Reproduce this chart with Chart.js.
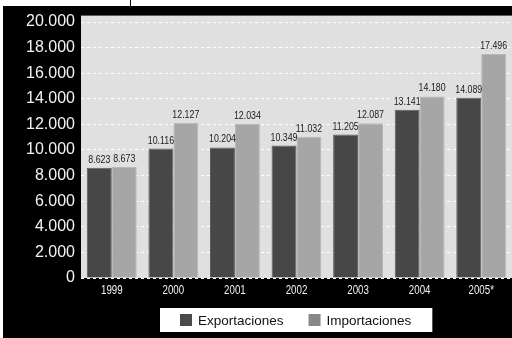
<!DOCTYPE html>
<html>
<head>
<meta charset="utf-8">
<script src="https://cdn.jsdelivr.net/npm/chart.js@4"></script>
<style>
  html, body { margin: 0; padding: 0; background: #fff; }
  canvas { display: block; }
</style>
</head>
<body>
<canvas id="chart" width="512" height="338"></canvas>
<script>
const years = ["1999", "2000", "2001", "2002", "2003", "2004", "2005*"];
const exportaciones = [8623, 10116, 10204, 10349, 11205, 13141, 14089];
const importaciones = [8673, 12127, 12034, 11032, 12087, 14180, 17496];
const yTicks = [0, 2000, 4000, 6000, 8000, 10000, 12000, 14000, 16000, 18000, 20000];

// 12345 -> "12.345"
const fmt = v => v >= 1000 ? Math.floor(v / 1000) + "." + String(v % 1000).padStart(3, "0") : String(v);

// condensed text: squeeze a regular face horizontally
function narrowText(ctx, text, x, y, sx) {
  ctx.save();
  ctx.translate(x, y);
  ctx.scale(sx, 1);
  ctx.fillText(text, 0, 0);
  ctx.restore();
}

// black frame, grey plot area and the small tick line at the top
const backdrop = {
  id: "backdrop",
  beforeDraw(chart) {
    const { ctx, chartArea: a, width, height } = chart;
    ctx.save();
    ctx.fillStyle = "#fff";
    ctx.fillRect(0, 0, width, height);
    ctx.fillStyle = "#000";
    ctx.fillRect(3, 6, width - 3, height - 6);
    ctx.fillRect(130, 0, 1, 6);
    ctx.fillStyle = "#e0e0e0";
    ctx.fillRect(a.left, a.top, a.right - a.left, a.bottom - a.top);
    ctx.restore();
  }
};

// value printed above each bar, and the year under each group
const valueLabels = {
  id: "valueLabels",
  afterDatasetsDraw(chart) {
    const ctx = chart.ctx;
    ctx.save();
    ctx.font = "10.5px 'Liberation Sans', Arial, sans-serif";
    ctx.fillStyle = "#1a1a1a";
    ctx.textAlign = "center";
    ctx.textBaseline = "alphabetic";
    chart.data.datasets.forEach((ds, i) => {
      chart.getDatasetMeta(i).data.forEach((bar, j) => {
        narrowText(ctx, fmt(ds.data[j]), bar.x, bar.y - 5, 0.84);
      });
    });
    const xs = chart.scales.x;
    ctx.font = "13.5px 'Liberation Sans', Arial, sans-serif";
    ctx.fillStyle = "#f2f2f2";
    chart.data.labels.forEach((lab, i) => {
      narrowText(ctx, lab, xs.getPixelForTick(i), 294, 0.72);
    });
    ctx.restore();
  }
};

// white legend box under the axis
const boxLegend = {
  id: "boxLegend",
  afterDraw(chart) {
    const { ctx, chartArea: a } = chart;
    ctx.save();
    ctx.font = "13.5px 'Liberation Sans', Arial, sans-serif";
    const sw = 12, gapText = 6, gapItem = 25, padL = 20, padR = 21;
    const items = chart.data.datasets.map(ds => ({ text: ds.label, color: ds.swatch, w: ctx.measureText(ds.label).width }));
    let total = padL + padR;
    items.forEach((it, i) => { total += sw + gapText + it.w + (i ? gapItem : 0); });
    const cx = (a.left + a.right) / 2;
    const left = Math.round(cx - total / 2), top = 308, h = 24;
    ctx.fillStyle = "#fff";
    ctx.fillRect(left, top, total, h);
    let x = left + padL;
    ctx.textBaseline = "middle";
    items.forEach(it => {
      ctx.fillStyle = it.color;
      ctx.fillRect(x, top + 6, sw, sw);
      x += sw + gapText;
      ctx.fillStyle = "#111";
      ctx.fillText(it.text, x, top + h / 2 + 1);
      x += it.w + gapItem;
    });
    ctx.restore();
  }
};

new Chart(document.getElementById("chart"), {
  type: "bar",
  data: {
    labels: years,
    datasets: [{
      label: "Exportaciones",
      data: exportaciones,
      backgroundColor: "#474747",
      borderColor: "#5c5c5c",
      swatch: "#4a4a4a",
      borderWidth: 1,
      categoryPercentage: 0.81,
      barPercentage: 1
    }, {
      label: "Importaciones",
      data: importaciones,
      backgroundColor: "#a6a6a6",
      borderColor: "#b8b8b8",
      swatch: "#888888",
      borderWidth: 1,
      categoryPercentage: 0.81,
      barPercentage: 1
    }]
  },
  options: {
    responsive: false,
    animation: false,
    devicePixelRatio: 1,
    layout: { padding: { left: 0, top: 12, right: 0, bottom: 0 } },
    plugins: {
      legend: { display: false },
      tooltip: { enabled: false }
    },
    scales: {
      x: {
        grid: { display: false },
        border: { display: false },
        ticks: { display: false },
        afterFit(scale) { scale.height = 60; }
      },
      y: {
        min: 0,
        max: 20500,
        afterBuildTicks(scale) { scale.ticks = yTicks.map(v => ({ value: v })); },
        afterFit(scale) { scale.width = 81; },
        grid: { color: "#ffffff", lineWidth: 1, drawTicks: false },
        border: { display: false, dash: [3, 3] },
        ticks: {
          color: "#f2f2f2",
          padding: 6,
          font: { family: "'Liberation Sans', Arial, sans-serif", size: 16 },
          callback: v => fmt(v)
        }
      }
    }
  },
  plugins: [backdrop, valueLabels, boxLegend]
});
</script>
</body>
</html>
